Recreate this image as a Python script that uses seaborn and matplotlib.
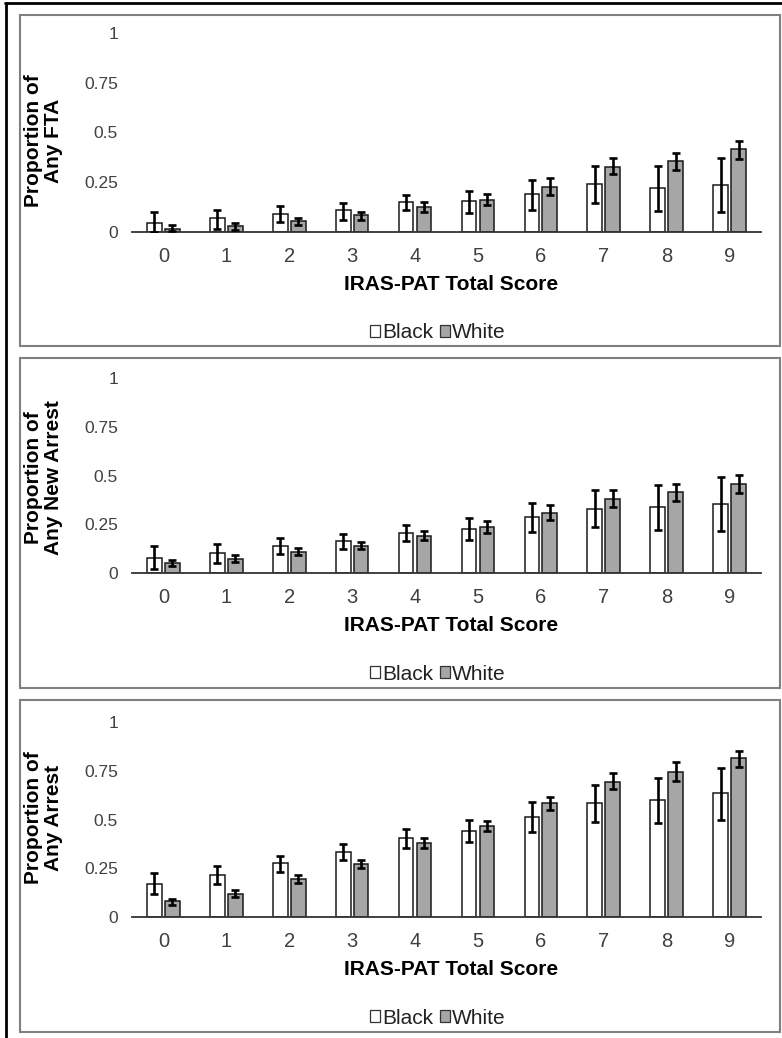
import matplotlib
matplotlib.use("Agg")
import matplotlib.pyplot as plt
import seaborn as sns
import pandas as pd
from matplotlib.patches import Rectangle, Patch
from matplotlib.lines import Line2D

# ---------------- data ----------------
scores = ["0", "1", "2", "3", "4", "5", "6", "7", "8", "9"]
groups = ["Black", "White"]
y_ticks = [0, 0.25, 0.5, 0.75, 1]
y_tick_labels = ["0", "0.25", "0.5", "0.75", "1"]
x_title = "IRAS-PAT Total Score"
y_titles = ["Proportion of\nAny FTA", "Proportion of\nAny New Arrest", "Proportion of\nAny Arrest"]

fta_black = [0.046, 0.068, 0.088, 0.110, 0.149, 0.155, 0.193, 0.243, 0.220, 0.236]
fta_black_lo = [0.000, 0.017, 0.049, 0.062, 0.110, 0.096, 0.113, 0.147, 0.108, 0.100]
fta_black_hi = [0.100, 0.113, 0.130, 0.144, 0.186, 0.208, 0.260, 0.334, 0.333, 0.370]
fta_white = [0.017, 0.029, 0.054, 0.083, 0.127, 0.162, 0.228, 0.329, 0.358, 0.417]
fta_white_lo = [0.003, 0.012, 0.034, 0.062, 0.100, 0.135, 0.184, 0.290, 0.312, 0.367]
fta_white_hi = [0.034, 0.046, 0.071, 0.100, 0.152, 0.189, 0.269, 0.370, 0.399, 0.458]

new_black = [0.077, 0.103, 0.138, 0.162, 0.205, 0.227, 0.285, 0.330, 0.337, 0.354]
new_black_lo = [0.020, 0.051, 0.097, 0.123, 0.162, 0.171, 0.209, 0.236, 0.222, 0.214]
new_black_hi = [0.137, 0.150, 0.180, 0.200, 0.246, 0.282, 0.359, 0.424, 0.453, 0.492]
new_white = [0.051, 0.074, 0.109, 0.140, 0.191, 0.236, 0.309, 0.381, 0.417, 0.456]
new_white_lo = [0.034, 0.055, 0.091, 0.123, 0.168, 0.205, 0.270, 0.337, 0.368, 0.410]
new_white_hi = [0.068, 0.092, 0.128, 0.157, 0.215, 0.265, 0.350, 0.424, 0.458, 0.504]

arr_black = [0.170, 0.216, 0.276, 0.332, 0.407, 0.443, 0.511, 0.583, 0.600, 0.634]
arr_black_lo = [0.118, 0.169, 0.233, 0.293, 0.356, 0.383, 0.438, 0.489, 0.480, 0.497]
arr_black_hi = [0.228, 0.264, 0.315, 0.375, 0.450, 0.499, 0.588, 0.676, 0.714, 0.765]
arr_white = [0.083, 0.119, 0.194, 0.273, 0.378, 0.467, 0.583, 0.693, 0.744, 0.813]
arr_white_lo = [0.063, 0.102, 0.174, 0.250, 0.353, 0.441, 0.549, 0.654, 0.698, 0.770]
arr_white_hi = [0.094, 0.136, 0.213, 0.293, 0.404, 0.492, 0.617, 0.736, 0.794, 0.853]

panels = [
    (y_titles[0], fta_black, fta_black_lo, fta_black_hi, fta_white, fta_white_lo, fta_white_hi),
    (y_titles[1], new_black, new_black_lo, new_black_hi, new_white, new_white_lo, new_white_hi),
    (y_titles[2], arr_black, arr_black_lo, arr_black_hi, arr_white, arr_white_lo, arr_white_hi),
]

# ---------------- style ----------------
sns.set_theme(style="white")
plt.rcParams["font.family"] = ["Liberation Sans", "DejaVu Sans"]

W, H = 782, 1038
fig = plt.figure(figsize=(W / 100, H / 100), dpi=100)
fig.patch.set_facecolor("white")

palette = {"Black": "#ffffff", "White": "#a6a6a6"}
tick_color = "#404040"

# axes pixel layout: (y of value 0, y of value 1)
ax_rows = [(232, 33), (573, 378), (917, 722)]
ax_left, ax_right = 132, 761
ylabel_centers = [0.46, 0.49, 0.51]
boxes = [(15, 346), (358, 688), (700, 1032)]

for i, (ytitle, b, blo, bhi, w, wlo, whi) in enumerate(panels):
    y0, y1 = ax_rows[i]
    ax = fig.add_axes([ax_left / W, 1 - y0 / H, (ax_right - ax_left) / W, (y0 - y1) / H])
    ax.set_facecolor("none")
    df = pd.DataFrame({
        "score": scores * 2,
        "group": ["Black"] * len(scores) + ["White"] * len(scores),
        "value": list(b) + list(w),
    })
    sns.barplot(data=df, x="score", y="value", hue="group", order=scores,
                hue_order=groups, palette=palette, edgecolor="#1a1a1a",
                linewidth=1.1, width=0.57, gap=0.18, errorbar=None, ax=ax,
                legend=False)
    lows = {"Black": blo, "White": wlo}
    highs = {"Black": bhi, "White": whi}
    vals = {"Black": b, "White": w}
    for g, cont in zip(groups, ax.containers):
        xs = [p.get_x() + p.get_width() / 2 for p in cont.patches]
        v = vals[g]
        lo = [vv - ll for vv, ll in zip(v, lows[g])]
        hi = [hh - vv for vv, hh in zip(v, highs[g])]
        ax.errorbar(xs, v, yerr=[lo, hi], fmt="none", ecolor="black",
                    elinewidth=1.9, capsize=3.2, capthick=1.9, zorder=5)

    ax.set_ylim(0, 1)
    ax.set_xlim(-0.5, 9.5)
    ax.set_yticks(y_ticks)
    ax.set_yticklabels(y_tick_labels)
    ax.tick_params(axis="y", length=0, pad=10, labelsize=12.5, labelcolor=tick_color)
    ax.tick_params(axis="x", length=0, pad=11, labelsize=14.5, labelcolor=tick_color)
    for s in ["left", "top", "right"]:
        ax.spines[s].set_visible(False)
    ax.spines["bottom"].set_color("#333333")
    ax.spines["bottom"].set_linewidth(1.3)
    ax.grid(False)

    hpx = y0 - y1
    ax.set_xlabel(x_title, fontsize=15, fontweight="bold", color="black", va="top")
    ax.xaxis.set_label_coords((451 - ax_left) / (ax_right - ax_left), -43 / hpx)
    ax.set_ylabel(ytitle, fontsize=15, fontweight="bold", color="black", linespacing=1.08)
    ax.yaxis.set_label_coords((63 - ax_left) / (ax_right - ax_left), ylabel_centers[i])

    handles = [Patch(facecolor=palette[g], edgecolor="#333333", linewidth=0.9) for g in groups]
    ax.legend(handles, groups, loc="center",
              bbox_to_anchor=((438 - ax_left) / (ax_right - ax_left), -101 / hpx),
              ncol=2, frameon=False, fontsize=15, handlelength=0.5, handleheight=0.5,
              handletextpad=0.1, columnspacing=0.3, borderpad=0, labelcolor="#222222")

    top, bot = boxes[i]
    fig.add_artist(Rectangle((20 / W, 1 - bot / H), 760 / W, (bot - top) / H,
                             transform=fig.transFigure, fill=False,
                             edgecolor="#808080", linewidth=1.5))

# outer black frame (top and left)
fig.add_artist(Line2D([5 / W, 1], [1 - 3 / H, 1 - 3 / H], transform=fig.transFigure,
                      color="black", linewidth=2))
fig.add_artist(Line2D([6 / W, 6 / W], [0, 1 - 3 / H], transform=fig.transFigure,
                      color="black", linewidth=2))

fig.savefig("out.png", dpi=100, facecolor="white")
